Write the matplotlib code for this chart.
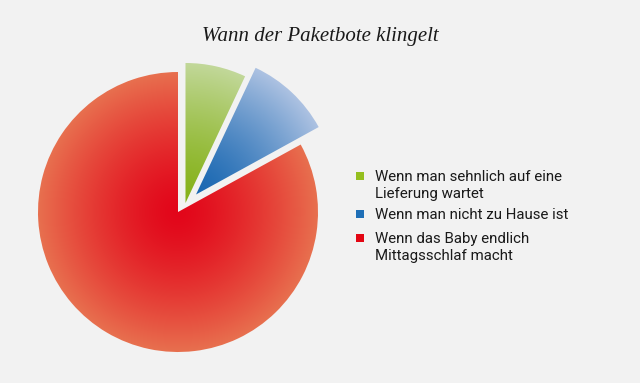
import numpy as np
import matplotlib.pyplot as plt
from matplotlib.colors import to_rgb

# data
labels = ["Wenn man sehnlich auf eine\nLieferung wartet",
          "Wenn man nicht zu Hause ist",
          "Wenn das Baby endlich\nMittagsschlaf macht"]
shares = [7, 10, 83]
# pulled-out slices: shift in px (right, up)
offsets = [(7.5, 9.0), (18.0, 17.5), (0.0, 0.0)]

inner_colors = ["#86b21a", "#1a68b2", "#e2061a"]
outer_colors = ["#c2d89a", "#adc2e2", "#e8704f"]
legend_colors = ["#95bf1f", "#1f6fb7", "#e30613"]
bg = "#f2f2f2"

W, H = 640, 383
R = 140
cx, cy = 178, H - 212

fig = plt.figure(figsize=(6.4, 3.83), dpi=100)
fig.patch.set_facecolor(bg)
ax = fig.add_axes([0, 0, 1, 1])
ax.set_facecolor(bg)

wedges, _ = ax.pie(shares, radius=R, center=(cx, cy),
                   startangle=90, counterclock=False, frame=True,
                   wedgeprops=dict(linewidth=0))

# radial gradient fill, clipped to each wedge
xs = np.linspace(0, W, W * 2)
ys = np.linspace(0, H, H * 2)
X, Y = np.meshgrid(xs, ys)
for w, (dx, dy), c0, c1 in zip(wedges, offsets, inner_colors, outer_colors):
    w.set_center((cx + dx, cy + dy))
    wx, wy = w.center
    t = np.clip(np.hypot(X - wx, Y - wy) / R, 0, 1) ** 1.4
    c0 = np.array(to_rgb(c0))
    c1 = np.array(to_rgb(c1))
    img = c0[None, None, :] * (1 - t[..., None]) + c1[None, None, :] * t[..., None]
    w.set_facecolor("none")
    im = ax.imshow(img, extent=(0, W, 0, H), origin="lower", interpolation="bilinear", zorder=1)
    im.set_clip_path(w)

# legend
leg_x = 360
leg_y = [H - 176, H - 214, H - 238]
for y, lab, col in zip(leg_y, labels, legend_colors):
    ax.scatter([leg_x], [y], marker="s", s=40, color=col, linewidths=0, zorder=3)
    ax.text(leg_x + 15, y + 6, lab, fontsize=10.8, family="Roboto", color="#1a1a1a",
            va="top", ha="left", linespacing=1.25, zorder=3)

ax.text(W / 2, H - 37, "Wann der Paketbote klingelt", fontsize=15, style="italic",
        family="Liberation Serif", color="#1a1a1a", ha="center", va="center")

ax.set_xlim(0, W)
ax.set_ylim(0, H)
ax.set_aspect("equal")
ax.axis("off")

fig.savefig("out.png", dpi=100, facecolor=bg)
